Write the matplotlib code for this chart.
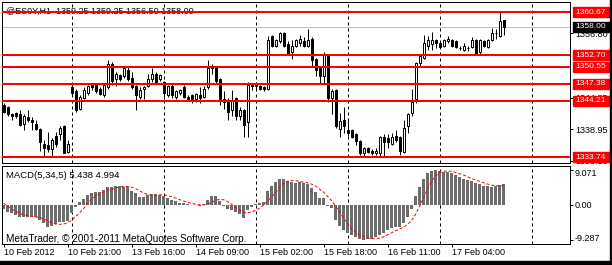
import numpy as np
import matplotlib
matplotlib.use("Agg")
import matplotlib.pyplot as plt
from matplotlib import transforms
from matplotlib.patches import Rectangle

# chart header
symbol_info = "@ES0Y,H1  1359.25 1359.25 1356.50 1358.00"
macd_info = "MACD(5,34,5) 5.438 4.994"
copyright_text = "MetaTrader, \u00a9 2001-2011 MetaQuotes Software Corp."

# hourly bars, 10 Feb 2012 - 17 Feb 2012
opens = [1343.50, 1343.00, 1341.75, 1342.00, 1341.75, 1340.00, 1341.25, 1340.75, 1340.00, 1339.00,
         1336.25, 1336.00, 1335.25, 1337.75, 1338.00, 1339.50, 1334.75, 1346.75, 1346.00, 1342.75,
         1344.75, 1345.75, 1347.25, 1347.25, 1346.50, 1345.25, 1346.75, 1351.00, 1348.25, 1349.00,
         1348.75, 1350.00, 1348.50, 1347.00, 1345.00, 1346.50, 1347.00, 1348.25, 1349.25, 1348.25,
         1347.75, 1345.25, 1347.00, 1345.00, 1345.75, 1346.75, 1345.00, 1345.25, 1344.50, 1345.25,
         1345.00, 1346.75, 1350.75, 1350.50, 1348.25, 1344.50, 1344.00, 1342.50, 1344.75, 1341.50,
         1342.50, 1340.25, 1347.25, 1347.00, 1347.00, 1346.75, 1346.50, 1356.25, 1354.50, 1355.25,
         1356.75, 1354.75, 1353.25, 1354.50, 1355.00, 1355.25, 1354.50, 1355.75, 1352.00, 1350.25,
         1348.75, 1352.75, 1344.75, 1346.25, 1339.00, 1340.75, 1338.75, 1338.75, 1338.00, 1336.75,
         1334.50, 1335.50, 1335.00, 1334.50, 1334.50, 1337.50, 1337.25, 1336.25, 1337.75, 1337.50,
         1334.75, 1339.50, 1342.00, 1344.50, 1351.25, 1352.25, 1354.50, 1354.75, 1355.50, 1355.00,
         1354.50, 1355.25, 1355.50, 1355.25, 1354.00, 1353.75, 1354.00, 1354.25, 1355.50, 1353.25,
         1355.25, 1354.25, 1355.50, 1356.75, 1356.25, 1359.25]
highs = [1343.75, 1343.25, 1342.00, 1342.25, 1342.50, 1341.75, 1342.50, 1341.25, 1340.75, 1339.25,
         1337.00, 1338.50, 1337.25, 1338.50, 1339.50, 1339.75, 1337.00, 1347.25, 1346.50, 1345.25,
         1346.75, 1347.25, 1347.50, 1347.50, 1346.75, 1347.50, 1351.75, 1351.50, 1349.50, 1349.25,
         1350.50, 1350.50, 1349.50, 1347.25, 1346.75, 1347.00, 1349.25, 1350.25, 1349.50, 1349.25,
         1348.00, 1347.25, 1347.50, 1346.25, 1346.50, 1347.25, 1345.25, 1345.50, 1345.75, 1346.75,
         1347.00, 1351.75, 1351.00, 1350.75, 1348.50, 1346.00, 1344.75, 1346.25, 1345.00, 1343.00,
         1342.75, 1347.75, 1347.50, 1347.75, 1347.25, 1347.00, 1356.25, 1356.50, 1355.75, 1357.00,
         1357.00, 1355.25, 1355.50, 1355.75, 1356.50, 1356.00, 1357.50, 1356.00, 1352.25, 1350.50,
         1353.25, 1353.00, 1346.50, 1346.50, 1342.00, 1343.00, 1340.75, 1339.00, 1338.25, 1337.00,
         1335.75, 1335.75, 1335.25, 1335.50, 1337.75, 1338.00, 1338.00, 1338.25, 1338.75, 1337.75,
         1340.75, 1342.00, 1346.50, 1351.50, 1353.00, 1356.50, 1356.25, 1357.00, 1355.75, 1355.25,
         1355.75, 1356.25, 1355.75, 1355.50, 1354.50, 1355.00, 1354.50, 1356.00, 1355.75, 1355.75,
         1355.50, 1355.75, 1357.75, 1357.50, 1360.67, 1359.25]
lows = [1342.00, 1341.50, 1340.75, 1341.00, 1339.50, 1338.75, 1340.25, 1338.75, 1338.75, 1335.00,
        1334.00, 1334.75, 1333.74, 1335.75, 1337.00, 1334.50, 1334.50, 1345.25, 1342.25, 1342.50,
        1344.50, 1345.25, 1346.25, 1345.75, 1345.25, 1345.00, 1346.50, 1347.25, 1347.00, 1348.00,
        1348.50, 1348.00, 1346.50, 1342.50, 1344.50, 1344.50, 1346.75, 1347.75, 1347.50, 1348.00,
        1344.50, 1345.00, 1344.75, 1344.50, 1345.25, 1344.75, 1344.25, 1343.75, 1344.00, 1343.75,
        1344.75, 1346.50, 1349.25, 1347.50, 1343.50, 1342.75, 1340.75, 1341.50, 1340.75, 1340.75,
        1337.50, 1337.50, 1346.25, 1346.50, 1346.25, 1346.00, 1346.25, 1354.25, 1354.25, 1355.00,
        1354.25, 1352.75, 1352.00, 1354.25, 1354.50, 1354.25, 1354.25, 1350.50, 1348.75, 1347.50,
        1347.50, 1344.00, 1341.75, 1339.25, 1337.50, 1338.25, 1337.75, 1337.25, 1336.00, 1334.25,
        1334.00, 1334.50, 1334.25, 1334.25, 1334.00, 1334.00, 1335.50, 1336.00, 1336.50, 1334.25,
        1334.50, 1338.25, 1341.50, 1343.75, 1350.75, 1352.00, 1353.75, 1353.75, 1354.00, 1354.00,
        1354.25, 1355.00, 1354.25, 1354.00, 1353.75, 1353.50, 1353.50, 1354.00, 1352.75, 1353.00,
        1354.25, 1354.00, 1355.25, 1355.75, 1356.00, 1356.50]
closes = [1342.25, 1341.75, 1341.50, 1341.50, 1339.75, 1341.50, 1340.75, 1340.25, 1339.00, 1336.50,
          1335.50, 1335.25, 1337.00, 1336.25, 1339.25, 1334.50, 1336.25, 1345.75, 1342.50, 1345.00,
          1346.25, 1347.00, 1346.75, 1346.00, 1345.50, 1347.25, 1351.00, 1348.00, 1349.25, 1348.25,
          1350.25, 1348.25, 1346.75, 1345.25, 1346.25, 1346.75, 1348.25, 1349.25, 1347.75, 1349.00,
          1345.75, 1347.00, 1345.25, 1346.00, 1346.25, 1345.00, 1344.50, 1344.50, 1345.50, 1344.75,
          1346.50, 1350.25, 1350.25, 1348.00, 1344.50, 1344.00, 1342.25, 1344.25, 1341.50, 1342.50,
          1339.75, 1347.25, 1347.00, 1347.25, 1346.50, 1346.50, 1355.50, 1354.50, 1355.50, 1356.75,
          1354.50, 1353.00, 1354.50, 1355.50, 1355.75, 1354.50, 1355.50, 1351.75, 1350.00, 1348.75,
          1352.75, 1344.75, 1346.00, 1339.50, 1340.50, 1339.50, 1338.25, 1337.50, 1336.75, 1334.50,
          1335.50, 1334.75, 1334.50, 1335.00, 1337.50, 1336.50, 1336.50, 1337.50, 1337.00, 1335.00,
          1339.25, 1341.75, 1344.00, 1351.25, 1352.50, 1355.00, 1355.50, 1355.50, 1355.00, 1354.25,
          1355.50, 1355.75, 1354.50, 1354.25, 1354.00, 1354.50, 1354.00, 1355.50, 1353.00, 1355.50,
          1354.50, 1355.50, 1356.75, 1356.75, 1359.00, 1358.00]

# MACD(5,34,5): main histogram and signal
macd_main = [-1.27, -1.89, -2.32, -2.76, -3.20, -3.20, -3.20, -3.20, -3.38, -4.08,
             -4.96, -5.83, -5.66, -5.13, -4.52, -4.52, -4.25, -2.32, -0.75, 0.57,
             1.36, 2.50, 3.11, 3.38, 3.38, 3.81, 4.69, 4.69, 4.87, 4.87,
             4.69, 4.69, 3.64, 2.94, 2.06, 2.06, 2.50, 2.76, 2.76, 2.50,
             2.24, 1.62, 1.18, 0.92, 0.48, 0.31, 0.13, -0.22, -0.22, -0.39,
             0.13, 1.18, 2.24, 2.24, 1.01, -0.39, -1.10, -1.45, -1.89, -2.50,
             -3.46, -1.45, -0.57, 0.13, 0.48, 0.66, 3.64, 4.87, 6.01, 6.80,
             6.62, 6.27, 5.92, 5.74, 5.92, 5.57, 5.39, 4.25, 3.38, 1.62,
             1.80, -0.39, -1.01, -4.08, -5.66, -6.71, -7.41, -8.02, -8.46, -8.99,
             -9.287, -9.20, -8.99, -8.64, -8.02, -7.59, -6.71, -6.27, -6.01, -5.83,
             -4.96, -3.20, -1.27, 2.24, 4.69, 6.62, 8.20, 8.90, 9.071, 8.90,
             8.64, 8.64, 8.38, 7.76, 7.15, 6.80, 6.45, 6.10, 5.75, 5.35,
             5.00, 4.75, 4.70, 4.95, 5.15, 5.438]
macd_signal = [0.35, -0.45, -1.15, -1.75, -2.29, -2.67, -2.94, -3.11, -3.24, -3.41,
               -3.76, -4.29, -4.78, -5.13, -5.22, -5.13, -4.82, -4.15, -3.27, -2.25,
               -1.08, 0.27, 1.36, 2.18, 2.75, 3.24, 3.67, 3.99, 4.29, 4.59,
               4.76, 4.76, 4.55, 4.17, 3.60, 3.08, 2.64, 2.46, 2.43, 2.52,
               2.55, 2.38, 2.06, 1.69, 1.29, 0.90, 0.60, 0.32, 0.10, -0.08,
               -0.11, 0.10, 0.59, 1.08, 1.36, 1.26, 0.80, 0.06, -0.76, -1.47,
               -2.08, -2.15, -1.97, -1.57, -0.97, -0.15, 0.87, 1.96, 3.13, 4.40,
               5.59, 6.11, 6.32, 6.27, 6.09, 5.88, 5.71, 5.37, 4.90, 4.04,
               3.29, 2.13, 1.08, -0.41, -1.87, -3.57, -4.97, -6.38, -7.25, -7.92,
               -8.43, -8.79, -8.99, -9.02, -8.83, -8.49, -7.99, -7.45, -6.92, -6.48,
               -5.96, -5.25, -4.25, -2.60, -0.50, 1.82, 4.10, 6.13, 7.50, 8.34,
               8.74, 8.83, 8.73, 8.46, 8.11, 7.75, 7.31, 6.85, 6.45, 6.09,
               5.73, 5.39, 5.11, 4.95, 4.91, 4.994]

day_breaks = [17, 40, 63, 86, 109, 132]
date_ticks = [0, 16, 32, 48, 64, 80, 96, 112]
date_labels = ["10 Feb 2012", "10 Feb 21:00", "13 Feb 16:00", "14 Feb 09:00",
               "15 Feb 02:00", "15 Feb 18:00", "16 Feb 11:00", "17 Feb 04:00"]

levels = [1360.67, 1352.70, 1350.55, 1347.38, 1344.21, 1333.74]
bid_price = 1358.00
price_ticks = [1356.80, 1344.85, 1338.95, 1333.10]
macd_ticks = [9.071, 0.0, -9.287]
macd_tick_labels = ["9.071", "0.00", "-9.287"]

W, H = 612, 265
PX = 0.72  # one pixel in points


def panel(fig, x0, y0, x1, y1):
    ax = fig.add_axes([x0 / W, 1 - y1 / H, (x1 - x0) / W, (y1 - y0) / H])
    for s in ax.spines.values():
        s.set_linewidth(PX)
        s.set_color("black")
    ax.set_xlim(-0.375, 141.625)
    return ax


def main():
    plt.rcParams["font.family"] = ["Liberation Sans", "DejaVu Sans"]
    fig = plt.figure(figsize=(W / 100, H / 100), dpi=100, facecolor="white")

    ax = panel(fig, 2, 2, 570, 163)
    mx = panel(fig, 2, 166, 570, 244)
    ax.set_ylim(1332.69, 1362.58)
    mx.set_ylim(-10.39, 10.13)

    x = np.arange(len(closes))
    o = np.array(opens)
    c = np.array(closes)
    up = c >= o

    # separators between sessions
    for a in (ax, mx):
        for d in day_breaks:
            a.axvline(d, color="black", lw=PX, ls=(0, (3, 3)), zorder=1.5)

    # candles
    ax.axhline(bid_price, color="#c0c0c0", lw=PX, zorder=1)
    ax.vlines(x, lows, highs, color="black", lw=PX, zorder=2)
    ax.bar(x, np.abs(c - o), bottom=np.minimum(o, c), width=0.5,
           color=np.where(up, "white", "black"), edgecolor="black",
           linewidth=PX, zorder=3)
    for lv in levels:
        ax.axhline(lv, color="red", lw=2 * PX, zorder=4)

    ax.text(4 / 568, 1 - 9 / 161, symbol_info, transform=ax.transAxes,
            fontsize=6.5, va="center", ha="left", zorder=3.5)

    # price scale
    ax.set_xticks([])
    ax.yaxis.tick_right()
    ax.set_yticks(price_ticks)
    ax.set_yticklabels(["%.2f" % t for t in price_ticks])
    ax.tick_params(axis="y", direction="out", length=3 * PX, width=PX,
                   pad=1.5, labelsize=6.5)

    # MACD window
    mx.bar(x, macd_main, width=0.75, color="#6d6d6d", linewidth=0, zorder=2)
    mx.plot(x, macd_signal, color="red", lw=PX, ls=(0, (3, 2)), zorder=3)
    mx.text(4 / 568, 1 - 9.5 / 78, macd_info, transform=mx.transAxes,
            fontsize=6.8, va="center", ha="left")
    mx.text(4 / 568, 1 - 73.5 / 78, copyright_text, transform=mx.transAxes,
            fontsize=7.2, va="center", ha="left")

    mx.yaxis.tick_right()
    mx.set_yticks(macd_ticks)
    mx.set_yticklabels(macd_tick_labels)
    mx.tick_params(axis="y", direction="out", length=3 * PX, width=PX,
                   pad=1.5, labelsize=6.5)
    shifts = {"9.071": -2.7, "-9.287": 2.8}
    for lab in mx.get_yticklabels():
        dy = shifts.get(lab.get_text(), 0)
        lab.set_transform(lab.get_transform() +
                          transforms.ScaledTranslation(0, dy / 100, fig.dpi_scale_trans))

    mx.set_xticks(date_ticks)
    mx.set_xticklabels(date_labels, ha="left")
    mx.tick_params(axis="x", direction="out", length=3 * PX, width=PX,
                   pad=1, labelsize=6.5)

    # price level labels on the right scale (they cover the scale numbers)
    ppu = (163 - 2) / (1362.58 - 1332.69)
    trans = transforms.blended_transform_factory(fig.transFigure, ax.transData)
    for lv in levels + [bid_price]:
        face = "black" if lv == bid_price else "red"
        fig.add_artist(Rectangle((573 / W, lv - 5 / ppu), 39 / W, 10 / ppu,
                                 transform=trans, color=face, zorder=10))
        fig.text(575.5 / W, lv, "%.2f" % lv, transform=trans, color="white",
                 fontsize=6.0, va="center", ha="left", zorder=11)

    # window frame
    fig.add_artist(Rectangle((610 / W, 0), 2 / W, 1, transform=fig.transFigure,
                             color="black", zorder=12))
    fig.add_artist(Rectangle((0, 0), 1, 4 / H, transform=fig.transFigure,
                             color="black", zorder=12))

    fig.savefig("out.png", dpi=100)


if __name__ == "__main__":
    main()
